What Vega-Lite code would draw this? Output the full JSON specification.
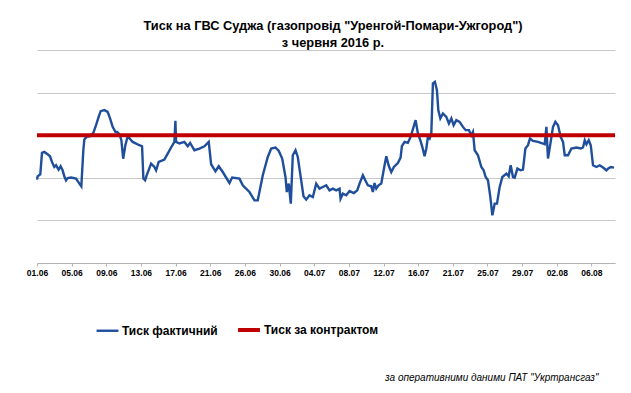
{
  "$schema": "https://vega.github.io/schema/vega-lite/v6.json",
  "width": 578,
  "height": 213,
  "autosize": {"type": "none"},
  "padding": {"left": 37, "top": 50, "right": 16, "bottom": 130},
  "background": "white",
  "title": {
    "text": ["Тиск на ГВС Суджа (газопровід \"Уренгой-Помари-Ужгород\")", "з червня 2016 р."],
    "anchor": "middle",
    "dx": 7,
    "offset": 0,
    "font": "Liberation Sans, Arial",
    "fontSize": 12.8,
    "fontWeight": "bold",
    "lineHeight": 17,
    "color": "#000000"
  },
  "config": {
    "view": {"stroke": null},
    "font": "Liberation Sans, Arial"
  },
  "data": {
    "values": [
      {"t":0,"v":1.958,"s":"Тиск фактичний"},
      {"t":0.017,"v":2.035,"s":"Тиск фактичний"},
      {"t":0.095,"v":2.082,"s":"Тиск фактичний"},
      {"t":0.144,"v":2.584,"s":"Тиск фактичний"},
      {"t":0.211,"v":2.607,"s":"Тиск фактичний"},
      {"t":0.306,"v":2.553,"s":"Тиск фактичний"},
      {"t":0.375,"v":2.506,"s":"Тиск фактичний"},
      {"t":0.433,"v":2.372,"s":"Тиск фактичний"},
      {"t":0.5,"v":2.254,"s":"Тиск фактичний"},
      {"t":0.549,"v":2.294,"s":"Тиск фактичний"},
      {"t":0.624,"v":2.193,"s":"Тиск фактичний"},
      {"t":0.682,"v":2.271,"s":"Тиск фактичний"},
      {"t":0.739,"v":2.176,"s":"Тиск фактичний"},
      {"t":0.788,"v":2.035,"s":"Тиск фактичний"},
      {"t":0.838,"v":1.941,"s":"Тиск фактичний"},
      {"t":0.884,"v":1.995,"s":"Тиск фактичний"},
      {"t":0.982,"v":2.005,"s":"Тиск фактичний"},
      {"t":1.126,"v":1.981,"s":"Тиск фактичний"},
      {"t":1.222,"v":1.864,"s":"Тиск фактичний"},
      {"t":1.279,"v":1.8,"s":"Тиск фактичний"},
      {"t":1.337,"v":2.647,"s":"Тиск фактичний"},
      {"t":1.366,"v":2.899,"s":"Тиск фактичний"},
      {"t":1.432,"v":2.96,"s":"Тиск фактичний"},
      {"t":1.539,"v":2.976,"s":"Тиск фактичний"},
      {"t":1.626,"v":3.054,"s":"Тиск фактичний"},
      {"t":1.704,"v":3.235,"s":"Тиск фактичний"},
      {"t":1.779,"v":3.431,"s":"Тиск фактичний"},
      {"t":1.837,"v":3.565,"s":"Тиск фактичний"},
      {"t":1.944,"v":3.588,"s":"Тиск фактичний"},
      {"t":2.039,"v":3.548,"s":"Тиск фактичний"},
      {"t":2.108,"v":3.393,"s":"Тиск фактичний"},
      {"t":2.183,"v":3.195,"s":"Тиск фактичний"},
      {"t":2.261,"v":3.078,"s":"Тиск фактичний"},
      {"t":2.31,"v":3.078,"s":"Тиск фактичний"},
      {"t":2.377,"v":3.024,"s":"Тиск фактичний"},
      {"t":2.435,"v":2.882,"s":"Тиск фактичний"},
      {"t":2.487,"v":2.447,"s":"Тиск фактичний"},
      {"t":2.55,"v":2.765,"s":"Тиск фактичний"},
      {"t":2.617,"v":2.976,"s":"Тиск фактичний"},
      {"t":2.761,"v":2.842,"s":"Тиск фактичний"},
      {"t":2.955,"v":2.765,"s":"Тиск фактичний"},
      {"t":3.032,"v":2.741,"s":"Тиск фактичний"},
      {"t":3.07,"v":1.981,"s":"Тиск фактичний"},
      {"t":3.119,"v":1.941,"s":"Тиск фактичний"},
      {"t":3.165,"v":2.059,"s":"Тиск фактичний"},
      {"t":3.292,"v":2.334,"s":"Тиск фактичний"},
      {"t":3.388,"v":2.254,"s":"Тиск фактичний"},
      {"t":3.437,"v":2.176,"s":"Тиск фактичний"},
      {"t":3.512,"v":2.372,"s":"Тиск фактичний"},
      {"t":3.676,"v":2.428,"s":"Тиск фактичний"},
      {"t":3.772,"v":2.569,"s":"Тиск фактичний"},
      {"t":3.87,"v":2.711,"s":"Тиск фактичний"},
      {"t":3.965,"v":2.842,"s":"Тиск фактичний"},
      {"t":3.994,"v":3.336,"s":"Тиск фактичний"},
      {"t":4.014,"v":2.842,"s":"Тиск фактичний"},
      {"t":4.11,"v":2.805,"s":"Тиск фактичний"},
      {"t":4.254,"v":2.842,"s":"Тиск фактичний"},
      {"t":4.35,"v":2.741,"s":"Тиск фактичний"},
      {"t":4.419,"v":2.819,"s":"Тиск фактичний"},
      {"t":4.543,"v":2.647,"s":"Тиск фактичний"},
      {"t":4.687,"v":2.687,"s":"Тиск фактичний"},
      {"t":4.832,"v":2.741,"s":"Тиск фактичний"},
      {"t":4.956,"v":2.842,"s":"Тиск фактичний"},
      {"t":5.025,"v":2.318,"s":"Тиск фактичний"},
      {"t":5.15,"v":2.153,"s":"Тиск фактичний"},
      {"t":5.245,"v":2.271,"s":"Тиск фактичний"},
      {"t":5.36,"v":2.136,"s":"Тиск фактичний"},
      {"t":5.554,"v":1.878,"s":"Тиск фактичний"},
      {"t":5.632,"v":2.005,"s":"Тиск фактичний"},
      {"t":5.843,"v":1.981,"s":"Тиск фактичний"},
      {"t":5.938,"v":1.824,"s":"Тиск фактичний"},
      {"t":6.131,"v":1.666,"s":"Тиск фактичний"},
      {"t":6.276,"v":1.471,"s":"Тиск фактичний"},
      {"t":6.371,"v":1.471,"s":"Тиск фактичний"},
      {"t":6.516,"v":2.059,"s":"Тиск фактичний"},
      {"t":6.66,"v":2.489,"s":"Тиск фактичний"},
      {"t":6.758,"v":2.687,"s":"Тиск фактичний"},
      {"t":6.882,"v":2.711,"s":"Тиск фактичний"},
      {"t":6.978,"v":2.631,"s":"Тиск фактичний"},
      {"t":7.076,"v":2.452,"s":"Тиск фактичний"},
      {"t":7.171,"v":2.019,"s":"Тиск фактичний"},
      {"t":7.209,"v":1.666,"s":"Тиск фактичний"},
      {"t":7.266,"v":1.864,"s":"Тиск фактичний"},
      {"t":7.324,"v":1.393,"s":"Тиск фактичний"},
      {"t":7.382,"v":2.529,"s":"Тиск фактичний"},
      {"t":7.46,"v":2.647,"s":"Тиск фактичний"},
      {"t":7.526,"v":2.489,"s":"Тиск фактичний"},
      {"t":7.624,"v":1.941,"s":"Тиск фактичний"},
      {"t":7.691,"v":1.565,"s":"Тиск фактичний"},
      {"t":7.769,"v":1.487,"s":"Тиск фактичний"},
      {"t":7.864,"v":1.588,"s":"Тиск фактичний"},
      {"t":7.96,"v":1.548,"s":"Тиск фактичний"},
      {"t":8.058,"v":1.864,"s":"Тиск фактичний"},
      {"t":8.153,"v":1.746,"s":"Тиск фактичний"},
      {"t":8.248,"v":1.784,"s":"Тиск фактичний"},
      {"t":8.347,"v":1.824,"s":"Тиск фактичний"},
      {"t":8.442,"v":1.706,"s":"Тиск фактичний"},
      {"t":8.537,"v":1.746,"s":"Тиск фактичний"},
      {"t":8.635,"v":1.706,"s":"Тиск фактичний"},
      {"t":8.731,"v":1.746,"s":"Тиск фактичний"},
      {"t":8.76,"v":1.511,"s":"Тиск фактичний"},
      {"t":8.826,"v":1.628,"s":"Тиск фактичний"},
      {"t":8.924,"v":1.588,"s":"Тиск фактичний"},
      {"t":9.019,"v":1.689,"s":"Тиск фактичний"},
      {"t":9.144,"v":1.642,"s":"Тиск фактичний"},
      {"t":9.242,"v":1.706,"s":"Тиск фактичний"},
      {"t":9.308,"v":1.864,"s":"Тиск фактичний"},
      {"t":9.404,"v":2.059,"s":"Тиск фактичний"},
      {"t":9.473,"v":1.941,"s":"Тиск фактичний"},
      {"t":9.548,"v":1.824,"s":"Тиск фактичний"},
      {"t":9.646,"v":1.8,"s":"Тиск фактичний"},
      {"t":9.692,"v":1.666,"s":"Тиск фактичний"},
      {"t":9.741,"v":1.878,"s":"Тиск фактичний"},
      {"t":9.791,"v":1.746,"s":"Тиск фактичний"},
      {"t":9.857,"v":1.824,"s":"Тиск фактичний"},
      {"t":9.935,"v":1.864,"s":"Тиск фактичний"},
      {"t":10.03,"v":2.294,"s":"Тиск фактичний"},
      {"t":10.08,"v":2.506,"s":"Тиск фактичний"},
      {"t":10.146,"v":2.294,"s":"Тиск фактичний"},
      {"t":10.224,"v":2.136,"s":"Тиск фактичний"},
      {"t":10.299,"v":2.254,"s":"Тиск фактичний"},
      {"t":10.414,"v":2.348,"s":"Тиск фактичний"},
      {"t":10.492,"v":2.475,"s":"Тиск фактичний"},
      {"t":10.53,"v":2.741,"s":"Тиск фактичний"},
      {"t":10.608,"v":2.842,"s":"Тиск фактичний"},
      {"t":10.703,"v":2.819,"s":"Тиск фактичний"},
      {"t":10.781,"v":2.96,"s":"Тиск фактичний"},
      {"t":10.868,"v":3.195,"s":"Тиск фактичний"},
      {"t":10.926,"v":3.353,"s":"Тиск фактичний"},
      {"t":10.992,"v":3.04,"s":"Тиск фактичний"},
      {"t":11.061,"v":2.882,"s":"Тиск фактичний"},
      {"t":11.119,"v":2.725,"s":"Тиск фактичний"},
      {"t":11.185,"v":2.506,"s":"Тиск фактичний"},
      {"t":11.235,"v":2.687,"s":"Тиск фактичний"},
      {"t":11.281,"v":2.96,"s":"Тиск фактичний"},
      {"t":11.33,"v":2.922,"s":"Тиск фактичний"},
      {"t":11.379,"v":3.04,"s":"Тиск фактичний"},
      {"t":11.425,"v":4.216,"s":"Тиск фактичний"},
      {"t":11.483,"v":4.254,"s":"Тиск фактичний"},
      {"t":11.541,"v":4.059,"s":"Тиск фактичний"},
      {"t":11.581,"v":3.588,"s":"Тиск фактичний"},
      {"t":11.639,"v":3.393,"s":"Тиск фактичний"},
      {"t":11.714,"v":3.511,"s":"Тиск фактичний"},
      {"t":11.812,"v":3.431,"s":"Тиск фактичний"},
      {"t":11.887,"v":3.275,"s":"Тиск фактичний"},
      {"t":11.957,"v":3.393,"s":"Тиск фактичний"},
      {"t":12.023,"v":3.235,"s":"Тиск фактичний"},
      {"t":12.101,"v":3.353,"s":"Тиск фактичний"},
      {"t":12.196,"v":3.313,"s":"Тиск фактичний"},
      {"t":12.292,"v":3.195,"s":"Тиск фактичний"},
      {"t":12.37,"v":3.118,"s":"Тиск фактичний"},
      {"t":12.465,"v":3.118,"s":"Тиск фактичний"},
      {"t":12.535,"v":3.0,"s":"Тиск фактичний"},
      {"t":12.581,"v":3.078,"s":"Тиск фактичний"},
      {"t":12.63,"v":2.647,"s":"Тиск фактичний"},
      {"t":12.725,"v":2.529,"s":"Тиск фактичний"},
      {"t":12.823,"v":2.254,"s":"Тиск фактичний"},
      {"t":12.889,"v":2.176,"s":"Тиск фактичний"},
      {"t":12.947,"v":2.019,"s":"Тиск фактичний"},
      {"t":13.014,"v":1.941,"s":"Тиск фактичний"},
      {"t":13.083,"v":1.548,"s":"Тиск фактичний"},
      {"t":13.141,"v":1.118,"s":"Тиск фактичний"},
      {"t":13.207,"v":1.393,"s":"Тиск фактичний"},
      {"t":13.274,"v":1.393,"s":"Тиск фактичний"},
      {"t":13.352,"v":1.784,"s":"Тиск фактичний"},
      {"t":13.43,"v":2.019,"s":"Тиск фактичний"},
      {"t":13.545,"v":2.099,"s":"Тиск фактичний"},
      {"t":13.612,"v":2.035,"s":"Тиск фактичний"},
      {"t":13.669,"v":2.294,"s":"Тиск фактичний"},
      {"t":13.736,"v":2.019,"s":"Тиск фактичний"},
      {"t":13.785,"v":2.005,"s":"Тиск фактичний"},
      {"t":13.863,"v":2.216,"s":"Тиск фактичний"},
      {"t":13.958,"v":2.176,"s":"Тиск фактичний"},
      {"t":14.024,"v":2.193,"s":"Тиск фактичний"},
      {"t":14.094,"v":2.687,"s":"Тиск фактичний"},
      {"t":14.169,"v":2.765,"s":"Тиск фактичний"},
      {"t":14.227,"v":2.922,"s":"Тиск фактичний"},
      {"t":14.313,"v":2.866,"s":"Тиск фактичний"},
      {"t":14.458,"v":2.842,"s":"Тиск фактичний"},
      {"t":14.602,"v":2.805,"s":"Тиск фактичний"},
      {"t":14.651,"v":2.788,"s":"Тиск фактичний"},
      {"t":14.7,"v":3.195,"s":"Тиск фактичний"},
      {"t":14.746,"v":2.452,"s":"Тиск фактичний"},
      {"t":14.824,"v":2.842,"s":"Тиск фактичний"},
      {"t":14.891,"v":3.195,"s":"Тиск фактичний"},
      {"t":14.96,"v":3.313,"s":"Тиск фактичний"},
      {"t":15.035,"v":3.235,"s":"Тиск фактичний"},
      {"t":15.113,"v":2.96,"s":"Тиск фактичний"},
      {"t":15.18,"v":2.842,"s":"Тиск фактичний"},
      {"t":15.229,"v":2.529,"s":"Тиск фактичний"},
      {"t":15.324,"v":2.529,"s":"Тиск фактичний"},
      {"t":15.422,"v":2.687,"s":"Тиск фактичний"},
      {"t":15.567,"v":2.711,"s":"Тиск фактичний"},
      {"t":15.691,"v":2.687,"s":"Тиск фактичний"},
      {"t":15.757,"v":2.711,"s":"Тиск фактичний"},
      {"t":15.807,"v":2.882,"s":"Тиск фактичний"},
      {"t":15.856,"v":2.788,"s":"Тиск фактичний"},
      {"t":15.922,"v":2.882,"s":"Тиск фактичний"},
      {"t":15.98,"v":2.765,"s":"Тиск фактичний"},
      {"t":16.046,"v":2.294,"s":"Тиск фактичний"},
      {"t":16.144,"v":2.254,"s":"Тиск фактичний"},
      {"t":16.24,"v":2.294,"s":"Тиск фактичний"},
      {"t":16.335,"v":2.24,"s":"Тиск фактичний"},
      {"t":16.433,"v":2.176,"s":"Тиск фактичний"},
      {"t":16.479,"v":2.216,"s":"Тиск фактичний"},
      {"t":16.557,"v":2.254,"s":"Тиск фактичний"},
      {"t":16.652,"v":2.24,"s":"Тиск фактичний"},
      {"t":0,"v":3,"s":"Тиск за контрактом"},
      {"t":16.68,"v":3,"s":"Тиск за контрактом"}
    ]
  },
  "encoding": {
    "x": {
      "field": "t",
      "type": "quantitative",
      "scale": {"domain": [0, 16.68], "nice": false, "zero": false},
      "axis": {
        "values": [0,1,2,3,4,5,6,7,8,9,10,11,12,13,14,15,16],
        "labelExpr": "['01.06','05.06','09.06','13.06','17.06','21.06','26.06','30.06','04.07','08.07','12.07','16.07','21.07','25.07','29.07','02.08','06.08'][datum.value]",
        "grid": false,
        "domainColor": "#b4b4b4",
        "tickColor": "#b4b4b4",
        "tickSize": 3,
        "labelPadding": 2,
        "labelFont": "Liberation Sans, Arial",
        "labelFontSize": 8.5,
        "labelFontWeight": "bold",
        "labelColor": "#000000",
        "labelFlush": false,
        "labelOverlap": false,
        "title": "за оперативними даними ПАТ \"Укртрансгаз\"",
        "titleFont": "Liberation Sans, Arial",
        "titleFontSize": 10,
        "titleFontStyle": "italic",
        "titleFontWeight": "normal",
        "titleColor": "#000000",
        "titleAnchor": "end",
        "titleAlign": "right",
        "titleBaseline": "middle",
        "titleX": 561,
        "titleY": 114
      }
    },
    "y": {
      "field": "v",
      "type": "quantitative",
      "scale": {"domain": [0, 5], "nice": false},
      "axis": {
        "values": [0,1,2,3,4,5],
        "labels": false,
        "ticks": false,
        "domain": false,
        "title": null,
        "gridColor": "#c8c8c8",
        "gridWidth": 1
      }
    },
    "color": {
      "field": "s",
      "type": "nominal",
      "scale": {"domain": ["Тиск фактичний", "Тиск за контрактом"], "range": ["#1F4E9B", "#C00000"]},
      "legend": {
        "title": null,
        "orient": "none",
        "legendX": 58,
        "legendY": 267,
        "direction": "horizontal",
        "symbolType": "stroke",
        "symbolSize": 480,
        "labelFont": "Liberation Sans, Arial",
        "labelFontSize": 12,
        "labelFontWeight": "bold",
        "labelColor": "#000000",
        "labelOffset": 2,
        "columnPadding": 12
      }
    },
    "strokeWidth": {
      "field": "s",
      "type": "ordinal",
      "scale": {"domain": ["Тиск фактичний", "Тиск за контрактом"], "range": [2.4, 4]},
      "legend": {
        "title": null,
        "orient": "none",
        "legendX": 58,
        "legendY": 267,
        "direction": "horizontal",
        "symbolType": "stroke",
        "symbolSize": 480,
        "labelFont": "Liberation Sans, Arial",
        "labelFontSize": 12,
        "labelFontWeight": "bold",
        "labelColor": "#000000",
        "labelOffset": 2,
        "columnPadding": 12
      }
    }
  },
  "layer": [
    {
      "transform": [{"filter": "datum.s === 'Тиск фактичний'"}],
      "mark": {"type": "line", "interpolate": "linear"}
    },
    {
      "transform": [{"filter": "datum.s === 'Тиск за контрактом'"}],
      "mark": {"type": "line"}
    }
  ]
}
